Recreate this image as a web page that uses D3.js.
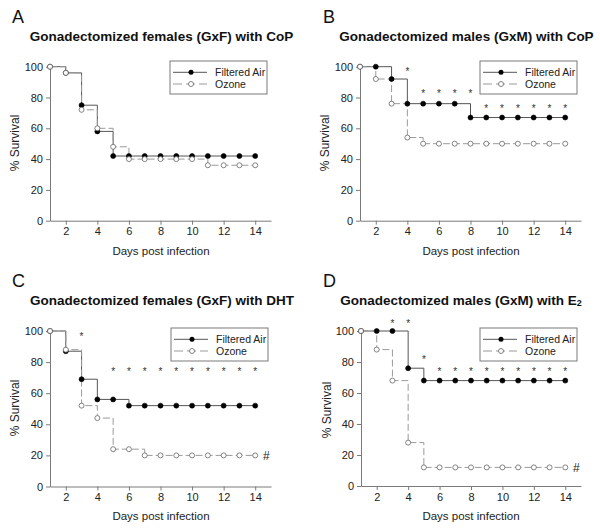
<!DOCTYPE html>
<html><head><meta charset="utf-8">
<script src="https://cdn.jsdelivr.net/npm/d3@7"></script>
<style>
body{margin:0;background:#fff}
text{font-family:"Liberation Sans",Arial,sans-serif}
</style>
</head><body>
<svg id="c" width="600" height="529"></svg>
<script>
const days = [1,2,3,4,5,6,7,8,9,10,11,12,13,14];
const xTicks = [2,4,6,8,10,12,14];
const yTicks = [0,20,40,60,80,100];
const seriesNames = ["Filtered Air","Ozone"];

const airA   = [100,96,75,58,42,42,42,42,42,42,42,42,42,42];
const ozoneA = [100,96,72,60,48,40,40,40,40,40,36,36,36,36];
const airB   = [100,100,92,76,76,76,76,67,67,67,67,67,67,67];
const ozoneB = [100,92,76,54,50,50,50,50,50,50,50,50,50,50];
const airC   = [100,87,69,56,56,52,52,52,52,52,52,52,52,52];
const ozoneC = [100,88,52,44,24,24,20,20,20,20,20,20,20,20];
const airD   = [100,100,100,76,68,68,68,68,68,68,68,68,68,68];
const ozoneD = [100,88,68,28,12,12,12,12,12,12,12,12,12,12];

const starsA = [];
const starsB = [[4,98],[5,84],[6,84],[7,84],[8,84],[9,74],[10,74],[11,74],[12,74],[13,74],[14,74]];
const starsC = [[3,98],[5,75],[6,75],[7,75],[8,75],[9,75],[10,75],[11,75],[12,75],[13,75],[14,75]];
const starsD = [[3,106],[4,106],[5,83],[6,75],[7,75],[8,75],[9,75],[10,75],[11,75],[12,75],[13,75],[14,75]];

const hashC = [[14.7,20]];
const hashD = [[14.7,12]];

const titles = ["Gonadectomized females (GxF) with CoP","Gonadectomized males (GxM) with CoP","Gonadectomized females (GxF) with DHT","Gonadectomized males (GxM) with E"];
const letters = ["A","B","C","D"];

const panels = [
  {air:airA, oz:ozoneA, stars:starsA, hash:[], title:titles[0], letter:letters[0],
   L:50, R:271, T:66.7, B:220.7, letterX:12, letterY:23, titleX:161.5, titleY:41, yLabX:15, yLabY:143, xLabX:161, xLabY:255, legX:170, legY:61},
  {air:airB, oz:ozoneB, stars:starsB, hash:[], title:titles[1], letter:letters[1],
   L:360, R:581, T:66.7, B:220.7, letterX:323, letterY:23, titleX:466.5, titleY:41, yLabX:325, yLabY:143, xLabX:471, xLabY:255, legX:480, legY:61},
  {air:airC, oz:ozoneC, stars:starsC, hash:hashC, title:titles[2], letter:letters[2],
   L:50, R:271, T:331, B:486.5, letterX:12, letterY:287, titleX:162, titleY:305, yLabX:15, yLabY:408, xLabX:161, xLabY:520, legX:171, legY:328},
  {air:airD, oz:ozoneD, stars:starsD, hash:hashD, title:titles[3], letter:letters[3], sub:"2",
   L:361, R:581, T:331, B:486, letterX:323, letterY:287, titleX:461, titleY:305, yLabX:327, yLabY:410, xLabX:471, xLabY:520, legX:480, legY:328}
];

const svg = d3.select("#c");
const axisCol = "#7a7a7a";
const airLine = "#555";
const ozLine = "#9a9a9a";

panels.forEach(p => {
  const g = svg.append("g");
  const x = d3.scaleLinear().domain([1,15]).range([p.L,p.R]);
  const y = d3.scaleLinear().domain([0,100]).range([p.B,p.T]);

  // letter
  g.append("text").attr("x",p.letterX).attr("y",p.letterY).attr("font-size",18).attr("fill","#111").text(p.letter);
  // title
  const t = g.append("text").attr("x",p.titleX).attr("y",p.titleY).attr("text-anchor","middle")
    .attr("font-size",13.5).attr("font-weight","bold").attr("fill","#111").text(p.title);
  if (p.sub) t.append("tspan").attr("font-size",9).attr("dy",1).text(p.sub);

  // axes
  const xa = g.append("g").attr("transform",`translate(0,${p.B})`)
    .call(d3.axisBottom(x).tickValues(xTicks).tickSize(4).tickSizeOuter(0).tickPadding(3));
  const ya = g.append("g").attr("transform",`translate(${p.L},0)`)
    .call(d3.axisLeft(y).tickValues(yTicks).tickSize(4).tickSizeOuter(0).tickPadding(3));
  [xa,ya].forEach(a=>{
    a.select(".domain").attr("stroke",axisCol);
    a.selectAll(".tick line").attr("stroke",axisCol);
    a.selectAll(".tick text").attr("font-size",11).attr("fill","#222").attr("font-family","Liberation Sans, Arial, sans-serif");
  });

  // axis labels
  g.append("text").attr("x",p.xLabX).attr("y",p.xLabY).attr("text-anchor","middle").attr("font-size",11.5).attr("fill","#222").text("Days post infection");
  g.append("text").attr("transform",`translate(${p.yLabX+4},${p.yLabY}) rotate(-90)`).attr("text-anchor","middle").attr("font-size",12).attr("fill","#222").text("% Survival");

  const line = d3.line().x(d=>x(d[0])).y(d=>y(d[1])).curve(d3.curveStepAfter);
  const airPts = days.map((d,i)=>[d,p.air[i]]);
  const ozPts = days.map((d,i)=>[d,p.oz[i]]);

  g.append("path").attr("d",line(airPts)).attr("fill","none").attr("stroke",airLine).attr("stroke-width",1);
  g.append("path").attr("d",line(ozPts)).attr("fill","none").attr("stroke",ozLine).attr("stroke-width",1).attr("stroke-dasharray","7,3");

  g.selectAll(".am").data(airPts).join("circle").attr("cx",d=>x(d[0])).attr("cy",d=>y(d[1])).attr("r",2.5)
    .attr("fill","#000").attr("stroke","#000").attr("stroke-width",0.6);
  g.selectAll(".om").data(ozPts).join("circle").attr("cx",d=>x(d[0])).attr("cy",d=>y(d[1])).attr("r",2.5)
    .attr("fill","#fff").attr("stroke","#666").attr("stroke-width",0.8);

  // significance marks
  g.selectAll(".st").data(p.stars).join("text").attr("x",d=>x(d[0])).attr("y",d=>y(d[1])+5.5)
    .attr("text-anchor","middle").attr("font-size",10).attr("fill","#333").text("*");
  g.selectAll(".hs").data(p.hash).join("text").attr("x",d=>x(d[0])).attr("y",d=>y(d[1])+4.5)
    .attr("text-anchor","middle").attr("font-size",12).attr("fill","#222").text("#");

  // legend
  const lg = g.append("g").attr("transform",`translate(${p.legX},${p.legY})`);
  lg.append("rect").attr("x",0).attr("y",0).attr("width",97).attr("height",33).attr("fill","#fff").attr("stroke",axisCol).attr("stroke-width",1);
  const rows = [11.3, 23];
  lg.append("line").attr("x1",3).attr("x2",37).attr("y1",rows[0]).attr("y2",rows[0]).attr("stroke",airLine);
  lg.append("circle").attr("cx",21).attr("cy",rows[0]).attr("r",2.5).attr("fill","#000");
  lg.append("line").attr("x1",3).attr("x2",37).attr("y1",rows[1]).attr("y2",rows[1]).attr("stroke",ozLine).attr("stroke-dasharray","9,4");
  lg.append("circle").attr("cx",21).attr("cy",rows[1]).attr("r",2.5).attr("fill","#fff").attr("stroke","#666").attr("stroke-width",0.8);
  seriesNames.forEach((n,i)=>{
    lg.append("text").attr("x",45).attr("y",rows[i]+3.6).attr("font-size",10.5).attr("fill","#222").text(n);
  });
});
</script>
</body></html>
